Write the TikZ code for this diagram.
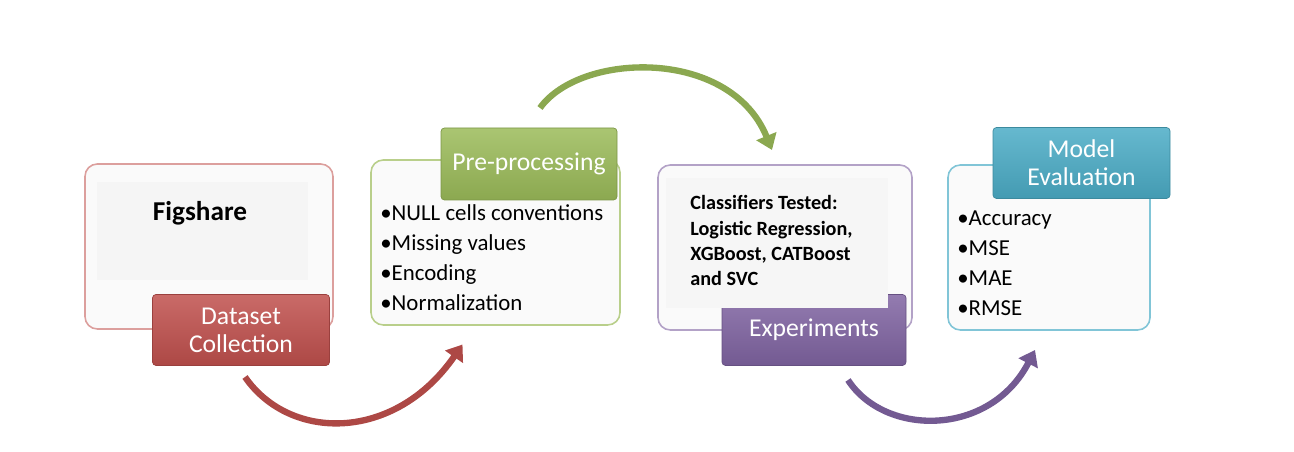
\documentclass[tikz,border=0pt]{standalone}
\usepackage{fontspec}
\setmainfont{Carlito}
\usetikzlibrary{arrows.meta}
\definecolor{redA}{HTML}{C0504D}
\definecolor{greenA}{HTML}{9BBB59}
\definecolor{purpleA}{HTML}{8064A2}
\definecolor{cyanA}{HTML}{4BACC6}
\begin{document}
\begin{tikzpicture}[
    box/.style={draw, rounded corners=7pt, fill=gray!4, line width=0.9pt, minimum height=3.3cm},
    tag/.style={draw, rounded corners=2pt, minimum width=3.54cm, minimum height=1.42cm, text=white, align=center, font=\fontsize{14.6}{16}\selectfont},
    item/.style={anchor=base west, inner sep=0pt, font=\fontsize{13}{17}\selectfont},
    curvearrow/.style={line width=3.6pt, -{Triangle[length=0.3cm, width=0.42cm]}}
]
    \useasboundingbox (0,0) rectangle (25.88,9.04);

    % Riquadri
    \node[box, draw=redA!55, minimum width=4.96cm] (fig_box) at (4.18,4.11) {};
    \node[box, draw=greenA!70, minimum width=4.98cm] (pre_box) at (9.91,4.19) {};
    \node[box, draw=purpleA!60, minimum width=5.08cm] (exp_box) at (15.7,4.09) {};
    \node[box, draw=cyanA!70, minimum width=4.04cm] (eval_box) at (20.98,4.09) {};

    % Titoli
    \node[tag, draw=redA!80!black, top color=redA!85, bottom color=redA!90!black] (fig_tag) at (4.82,2.44) {Dataset\\Collection};
    \node[tag, draw=greenA!80!black, top color=greenA!85, bottom color=greenA!90!black, minimum width=3.52cm, minimum height=1.44cm] (pre_tag) at (10.58,5.76) {Pre-processing};
    \node[tag, draw=purpleA!80!black, top color=purpleA!85, bottom color=purpleA!90!black, minimum width=3.68cm] (exp_tag) at (16.28,2.44) {Experiments};
    \node[tag, draw=cyanA!80!black, top color=cyanA!85, bottom color=cyanA!90!black] (eval_tag) at (21.63,5.78) {Model\\Evaluation};

    % Contenuto
    \node[fill=gray!8, minimum width=4.22cm, minimum height=1.96cm] (fig_area) at (4.05,4.42) {};
    \node[font=\fontsize{15.5}{18}\selectfont\bfseries] (fig_txt) at (4.0,4.78) {Figshare};

    \node[fill=gray!7, minimum width=4.44cm, minimum height=2.6cm] (exp_area) at (15.54,4.18) {};
    \node[anchor=north west, inner sep=0pt, align=left, font=\fontsize{11.5}{14.5}\selectfont\bfseries] (exp_txt) at (13.8,5.14)
        {Classifiers Tested:\\Logistic Regression,\\XGBoost, CATBoost\\and SVC};

    \foreach \t [count=\i] in {NULL cells conventions, Missing values, Encoding, Normalization}
        \node[item] (pre_\i) at (7.6,4.62-0.6*\i+0.6) {•\t};
    \foreach \t [count=\i] in {Accuracy, MSE, MAE, RMSE}
        \node[item] (eval_\i) at (19.14,4.52-0.6*\i+0.6) {•\t};

    % Frecce curve
    \coordinate (r_from) at (4.9,1.5);
    \coordinate (r_to) at (9.25,2.15);
    \coordinate (g_from) at (10.8,6.88);
    \coordinate (g_to) at (15.44,6.04);
    \coordinate (p_from) at (16.96,1.44);
    \coordinate (p_to) at (20.7,2.04);
    \draw[curvearrow, redA!90!black] (r_from) .. controls (5.8,0.2) and (7.9,0.2) .. (r_to);
    \draw[curvearrow, greenA!90!black] (g_from) .. controls (11.6,8.0) and (14.6,8.1) .. (g_to);
    \draw[curvearrow, purpleA!90!black] (p_from) .. controls (17.7,0.3) and (19.8,0.3) .. (p_to);
\end{tikzpicture}
\end{document}
